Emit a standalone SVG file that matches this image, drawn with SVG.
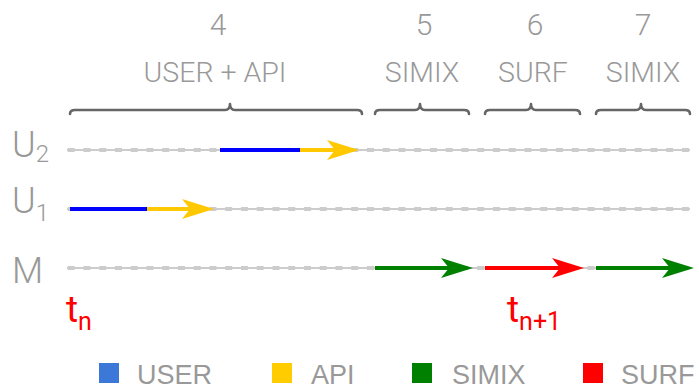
<svg xmlns="http://www.w3.org/2000/svg" xmlns:xlink="http://www.w3.org/1999/xlink" width="699" height="392" viewBox="0 0 699 392">
<style>
text{font-family:Roboto,"Liberation Sans",Arial,sans-serif;fill:#999}
.num{font-size:30px;font-weight:300;text-anchor:middle}
.lab{font-size:28.5px;font-weight:300;text-anchor:middle}
.row{font-size:36px;font-weight:300}
.sub{font-size:24px}
.leg{font-family:"Liberation Sans",Arial,sans-serif;font-size:27px}
.red{fill:#ff0000}
.brace{fill:none;stroke:#666;stroke-width:2.6;stroke-linejoin:round;stroke-linecap:round}
.base{stroke:#999;stroke-width:1}
.dash{stroke:#ccc;stroke-width:4;stroke-dasharray:7 8.75}
.seg{stroke-width:4;fill:none}
</style>
<defs>
<path id="ah" d="M0,0 L-32,-10 L-24,0 L-32,10 Z"/>
</defs>
<g id="headers">
<text class="num" x="218" y="35">4</text>
<text class="lab" x="215" y="82">USER + API</text>
<text class="num" x="424" y="35">5</text>
<text class="lab" x="422" y="82">SIMIX</text>
<text class="num" x="535" y="35">6</text>
<text class="lab" x="533" y="82">SURF</text>
<text class="num" x="643" y="35">7</text>
<text class="lab" x="643" y="82">SIMIX</text>
</g>
<g id="braces">
<path class="brace" d="M70,114 Q70,110 75,110 L225,110 Q230,110 230,104 Q230,110 235,110 L357,110 Q362,110 362,114"/>
<path class="brace" d="M375,114 Q375,110 380,110 L415,110 Q420,110 420,104 Q420,110 425,110 L464,110 Q469,110 469,114"/>
<path class="brace" d="M485,114 Q485,110 490,110 L526,110 Q531,110 531,104 Q531,110 536,110 L575,110 Q580,110 580,114"/>
<path class="brace" d="M596,114 Q596,110 601,110 L636,110 Q641,110 641,104 Q641,110 646,110 L685,110 Q690,110 690,114"/>
</g>
<g id="row-labels">
<text class="row" x="12" y="157">U<tspan class="sub" dy="5">2</tspan></text>
<text class="row" x="12" y="213">U<tspan class="sub" dy="8">1</tspan></text>
<text class="row" x="12" y="283">M</text>
</g>
<g id="timelines">
<line class="base" x1="67" y1="150" x2="690" y2="150"/>
<line class="dash" x1="67.7" y1="150" x2="690" y2="150"/>
<line class="base" x1="67" y1="209" x2="690" y2="209"/>
<line class="dash" x1="67.7" y1="209" x2="690" y2="209"/>
<line class="base" x1="67" y1="268" x2="690" y2="268"/>
<line class="dash" x1="67.7" y1="268" x2="690" y2="268"/>
</g>
<g id="connectors">
<line class="seg" x1="220" y1="150" x2="300" y2="150" stroke="#0000ff"/>
<line class="seg" x1="300" y1="150" x2="336" y2="150" stroke="#ffc800"/>
<use href="#ah" x="359" y="150" fill="#ffc800"/>
<line class="seg" x1="70" y1="209" x2="147" y2="209" stroke="#0000ff"/>
<line class="seg" x1="147" y1="209" x2="190" y2="209" stroke="#ffc800"/>
<use href="#ah" x="214" y="209" fill="#ffc800"/>
<line class="seg" x1="375" y1="268" x2="449" y2="268" stroke="#008000"/>
<use href="#ah" x="473" y="268" fill="#008000"/>
<line class="seg" x1="485" y1="268" x2="560" y2="268" stroke="#ff0000"/>
<use href="#ah" x="584" y="268" fill="#ff0000"/>
<line class="seg" x1="596" y1="268" x2="670" y2="268" stroke="#008000"/>
<use href="#ah" x="694" y="268" fill="#008000"/>
</g>
<g id="time-marks">
<text class="red" x="66" y="322" font-size="37">t<tspan font-size="25" dy="8">n</tspan></text>
<text class="red" x="507" y="322" font-size="37">t<tspan font-size="25" dy="8">n+1</tspan></text>
</g>
<g id="legend">
<rect x="99" y="363" width="20" height="20" fill="#3c78d8"/>
<text class="leg" x="137" y="384">USER</text>
<rect x="272" y="363" width="20" height="20" fill="#ffcc00"/>
<text class="leg" x="311" y="384">API</text>
<rect x="412" y="363" width="20" height="20" fill="#008000"/>
<text class="leg" x="452" y="384">SIMIX</text>
<rect x="583" y="363" width="20" height="20" fill="#ff0000"/>
<text class="leg" x="621" y="384">SURF</text>
</g>
</svg>
